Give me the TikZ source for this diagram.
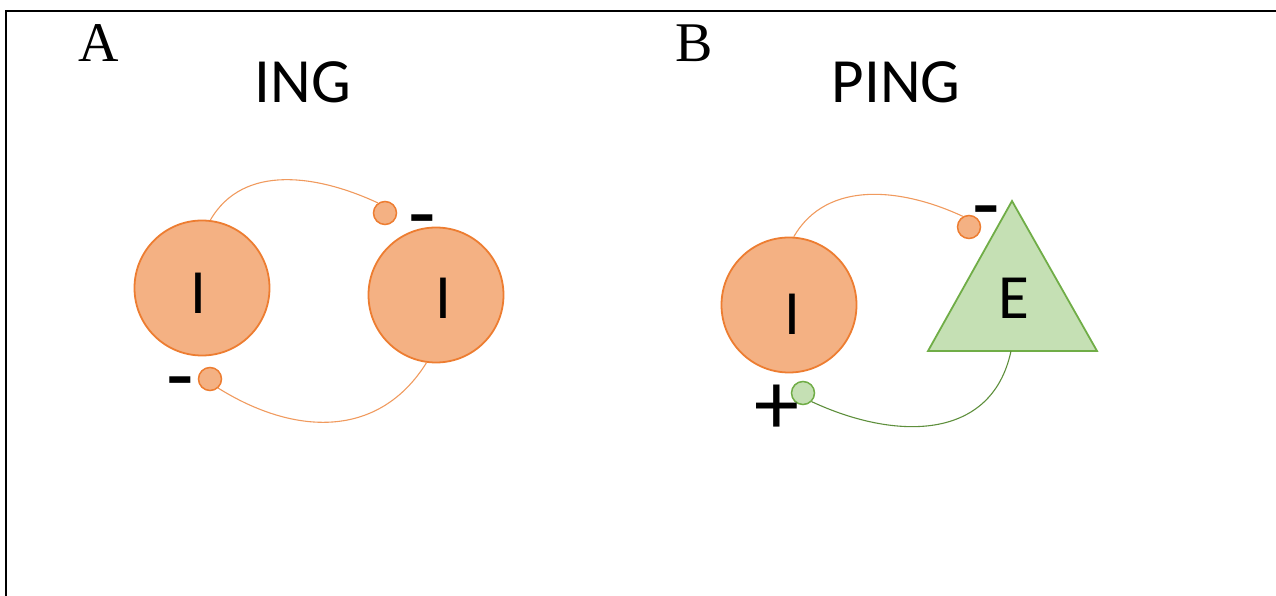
\documentclass[tikz,border=0pt]{standalone}
\usepackage{fontspec}
\setmainfont{Liberation Serif}
\newfontfamily\calfont{Carlito}
\definecolor{orfill}{HTML}{F4B183}
\definecolor{ordraw}{HTML}{ED7D31}
\definecolor{orline}{HTML}{F09A5E}
\definecolor{grfill}{HTML}{C5E0B4}
\definecolor{grdraw}{HTML}{70AD47}
\definecolor{grline}{HTML}{5E8F3C}
\tikzset{
  icell/.style={circle, draw=ordraw, fill=orfill, line width=1.8pt, minimum size=135pt, inner sep=0pt},
  osyn/.style={circle, draw=ordraw, fill=orfill, line width=1.5pt, minimum size=23pt, inner sep=0pt},
  gsyn/.style={circle, draw=grdraw, fill=grfill, line width=1.5pt, minimum size=23pt, inner sep=0pt},
  ecell/.style={draw=grdraw, fill=grfill, line width=1.8pt, line join=miter},
  olink/.style={draw=orline, line width=1.1pt},
  glink/.style={draw=grline, line width=1.1pt},
  cellname/.style={font=\calfont\fontsize{63}{70}\selectfont, inner sep=0pt},
  title/.style={font=\calfont\fontsize{63}{70}\selectfont, inner sep=0pt},
  panel/.style={font=\fontsize{56}{62}\selectfont, inner sep=0pt},
  sign/.style={font=\calfont\fontsize{90}{95}\selectfont, inner sep=0pt, anchor=base},
  frame/.style={line width=2.5pt, line cap=rect}
}
\begin{document}
\begin{tikzpicture}[x=1pt, y=1pt]
\useasboundingbox (0,0) rectangle (1276,596);
\draw[frame] (1276,584.8) -- (6.2,584.8) -- (6.2,0);
% Panel A
\node[panel] (pA) at (99,552.5) {A};
\node[title] (tA) at (303,514) {ING};
\node[icell] (L) at (202,308) {};
\node[cellname] (Lt) at (198,302.5) {I};
\node[icell] (R) at (436,301) {};
\node[cellname] (Rt) at (443,297.5) {I};
\node[osyn] (s1) at (385,383) {};
\node[osyn] (s2) at (210,217) {};
\node[sign] (m1) at (422,352) {-};
\node[sign] (m2) at (180,190) {-};
\draw[olink] (L.83) to[out=60, in=155] (s1.125);
\draw[olink] (R.262) to[out=238, in=-32, looseness=1.1] (s2.312);
% Panel B
\node[panel] (pB) at (694,552.5) {B};
\node[title] (tB) at (896,514) {PING};
\node[icell] (B) at (789,291) {};
\node[cellname] (Bt) at (792,282) {I};
\coordinate (T1) at (928,245);
\coordinate (T2) at (1097,245);
\coordinate (T3) at (1012,395);
\coordinate (Eb) at (1011,245);
\draw[ecell] (T1) -- (T2) -- (T3) -- cycle;
\node[cellname] (Et) at (1013.5,298) {E};
\node[osyn] (s3) at (969,369) {};
\node[gsyn] (g1) at (803,203) {};
\node[sign] (m3) at (986,361) {-};
\node[sign] (p1) at (777,161) {+};
\draw[olink] (B.86) to[out=60, in=155] (s3.120);
\draw[glink] (Eb) to[out=258, in=-25, looseness=1.15] (g1.315);
\end{tikzpicture}
\end{document}
